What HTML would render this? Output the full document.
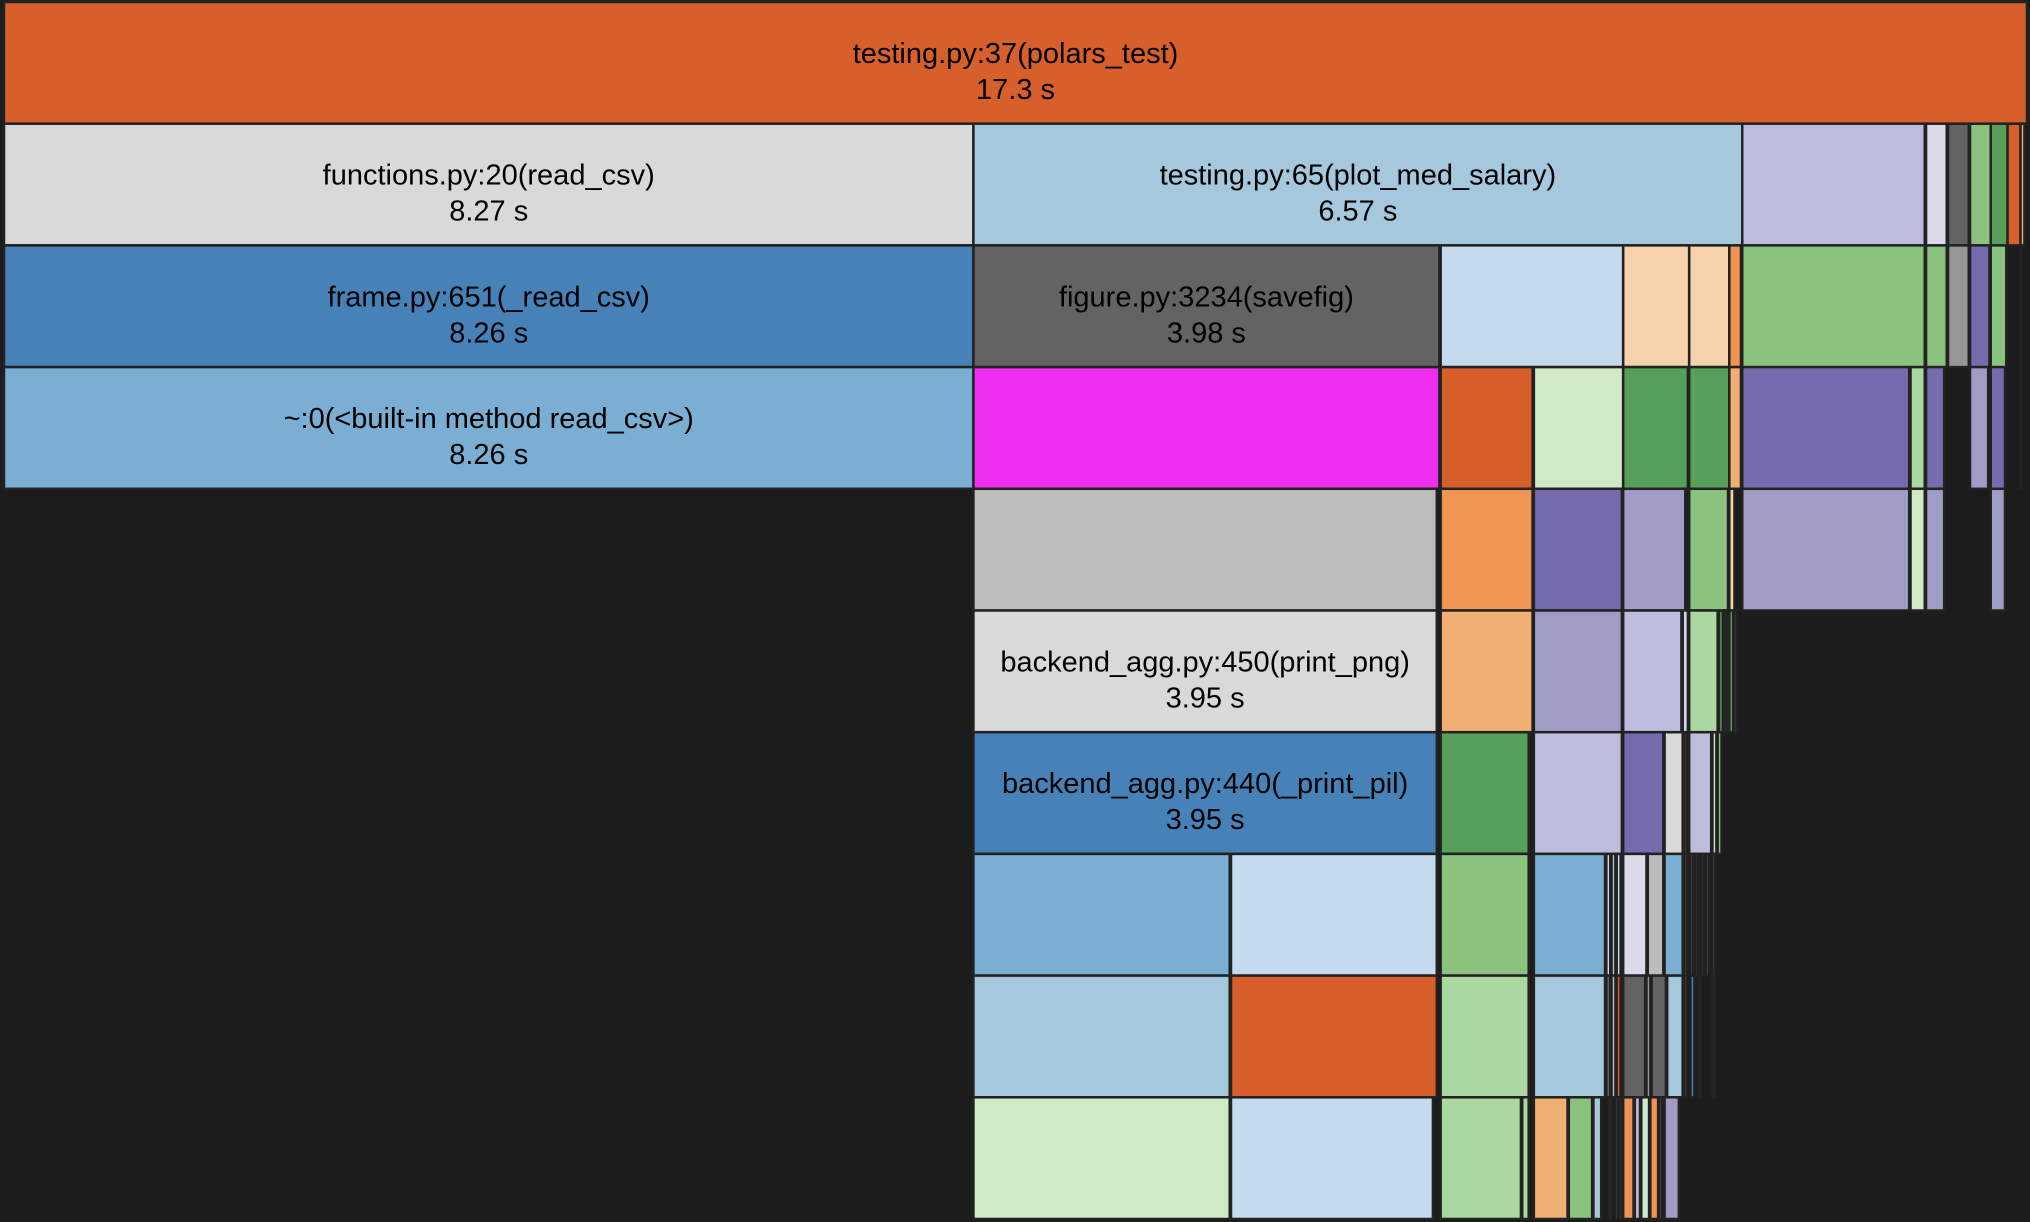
<!DOCTYPE html>
<html><head><meta charset="utf-8">
<style>
html,body{margin:0;padding:0;background:#1c1c1c;}
svg{display:block;}
text{font-family:"Liberation Sans",sans-serif;font-size:29px;fill:#000;}
</style></head>
<body>
<svg id="chart" width="2030" height="1222" xmlns="http://www.w3.org/2000/svg">
<rect x="0" y="0" width="2030" height="1222" fill="#1c1c1c"/>
</svg>
<script>
// time units: 1563 units == 17.3 s total
const totalUnits = 1563;
const depthRows = [0,1,2,3,4,5,6,7,8,9];
const row0 = [[0,1563,'#d65f2b','testing.py:37(polars_test)','17.3 s']];
const row1 = [[0,749,'#d9d9d9','functions.py:20(read_csv)','8.27 s'],[749,1343,'#a6c8dd','testing.py:65(plot_med_salary)','6.57 s'],[1343,1484,'#bcbddc'],[1485,1501,'#dadaeb'],[1502,1518,'#636363'],[1519,1535,'#8bc37e'],[1535,1548,'#57a05a'],[1548,1558,'#d65f2b'],[1558,1561,'#f0b073']];
const row2 = [[0,749,'#4682b8','frame.py:651(_read_csv)','8.26 s'],[749,1109,'#636363','figure.py:3234(savefig)','3.98 s'],[1110,1251,'#c6daee'],[1251,1302,'#f5d2a9'],[1302,1333,'#f5d2a9'],[1333,1342,'#ef9452'],[1343,1484,'#8bc37e'],[1485,1501,'#8bc37e'],[1502,1518,'#969696'],[1519,1534,'#756cb0'],[1535,1547,'#8bc37e'],[1558,1559,'#ef9452']];
const row3 = [[0,749,'#7aaed3','~:0(<built-in method read_csv>)','8.26 s'],[749,1109,'#ee2ff0'],[1110,1181,'#d65f2b'],[1182,1251,'#d0e9c7'],[1251,1301,'#57a05a'],[1302,1333,'#57a05a'],[1333,1342,'#f0b073'],[1343,1472,'#756cb0'],[1473,1484,'#abd7a0'],[1485,1499,'#756cb0'],[1519,1533,'#9f9dc5'],[1535,1546,'#756cb0'],[1558,1559,'#f0b073']];
const row4 = [[749,1107,'#bdbdbd'],[1110,1181,'#ef9452'],[1182,1250,'#756cb0'],[1251,1299,'#9f9dc5'],[1302,1332,'#8bc37e'],[1333,1337,'#f5d2a9'],[1343,1472,'#9f9dc5'],[1473,1484,'#d0e9c7'],[1485,1499,'#9f9dc5'],[1535,1546,'#9f9dc5']];
const row5 = [[749,1107,'#d9d9d9','backend_agg.py:450(print_png)','3.95 s'],[1110,1181,'#f0b073'],[1182,1250,'#9f9dc5'],[1251,1296,'#bcbddc'],[1297,1301,'#c6daee'],[1302,1324,'#abd7a0'],[1325,1328,'#57a05a'],[1329,1331,'#756cb0'],[1333,1336,'#57a05a'],[1337,1339,'#756cb0']];
const row6 = [[749,1107,'#4682b8','backend_agg.py:440(_print_pil)','3.95 s'],[1110,1178,'#57a05a'],[1182,1250,'#bcbddc'],[1251,1282,'#756cb0'],[1283,1297,'#d9d9d9'],[1298,1300,'#d65f2b'],[1302,1319,'#bcbddc'],[1320,1323,'#d0e9c7'],[1324,1327,'#8bc37e']];
const row7 = [[749,947,'#7aaed3'],[948,1107,'#c6daee'],[1110,1178,'#8bc37e'],[1182,1237,'#7aaed3'],[1238,1241,'#dadaeb'],[1242,1245,'#bdbdbd'],[1246,1249,'#c6daee'],[1251,1269,'#dadaeb'],[1270,1282,'#bdbdbd'],[1283,1297,'#7aaed3'],[1298,1300,'#ef9452'],[1303,1305,'#bdbdbd'],[1307,1309,'#7aaed3'],[1311,1313,'#756cb0'],[1315,1317,'#bdbdbd'],[1320,1322,'#756cb0']];
const row8 = [[749,947,'#a6c8dd'],[948,1107,'#d65f2b'],[1110,1178,'#abd7a0'],[1182,1237,'#a6c8dd'],[1238,1241,'#636363'],[1242,1245,'#bdbdbd'],[1246,1249,'#d65f2b'],[1251,1268,'#636363'],[1269,1272,'#969696'],[1273,1284,'#636363'],[1285,1297,'#a6c8dd'],[1298,1300,'#ef9452'],[1303,1306,'#4682b8'],[1309,1311,'#636363'],[1320,1322,'#636363']];
const row9 = [[749,947,'#d0e9c7'],[948,1104,'#c6daee'],[1110,1172,'#abd7a0'],[1173,1178,'#abd7a0'],[1182,1208,'#f0b073'],[1209,1227,'#8bc37e'],[1228,1234,'#a6c8dd'],[1240,1242,'#636363'],[1245,1247,'#969696'],[1248,1250,'#57a05a'],[1251,1259,'#ef9452'],[1260,1264,'#bcbddc'],[1265,1271,'#d0e9c7'],[1272,1278,'#ef9452'],[1279,1281,'#bcbddc'],[1283,1294,'#9f9dc5']];
const rows = [row0,row1,row2,row3,row4,row5,row6,row7,row8,row9];

const svg = document.getElementById('chart');
const NS = 'http://www.w3.org/2000/svg';
const plotX0 = 4, plotX1 = 2027, rowH = 121.7, plotY0 = 2;
function xScale(u){ return plotX0 + u/totalUnits*(plotX1-plotX0); }
function yScale(d){ return plotY0 + d*rowH; }

depthRows.forEach(function(d){
  rows[d].forEach(function(n){
    const g = document.createElementNS(NS,'g');
    
    
    const r = document.createElementNS(NS,'rect');
    const x0 = xScale(n[0]), x1 = xScale(n[1]);
    r.setAttribute('x', x0);
    r.setAttribute('y', yScale(d));
    r.setAttribute('width', Math.max(x1-x0, 1));
    r.setAttribute('height', rowH);
    r.setAttribute('fill', n[2]);
    r.setAttribute('stroke', '#222');
    r.setAttribute('stroke-width', '2.5');
    
    
    g.appendChild(r);
    if (n[3]) {
      const cx = (x0+x1)/2;
      const t1 = document.createElementNS(NS,'text');
      t1.setAttribute('x', cx); t1.setAttribute('y', yScale(d)+61);
      t1.setAttribute('text-anchor','middle');
      t1.textContent = n[3];
      
      
      g.appendChild(t1);
      const t2 = document.createElementNS(NS,'text');
      t2.setAttribute('x', cx); t2.setAttribute('y', yScale(d)+97);
      t2.setAttribute('text-anchor','middle');
      t2.textContent = n[4];
      
      
      g.appendChild(t2);
    }
    svg.appendChild(g);
  });
});
</script>
</body></html>
